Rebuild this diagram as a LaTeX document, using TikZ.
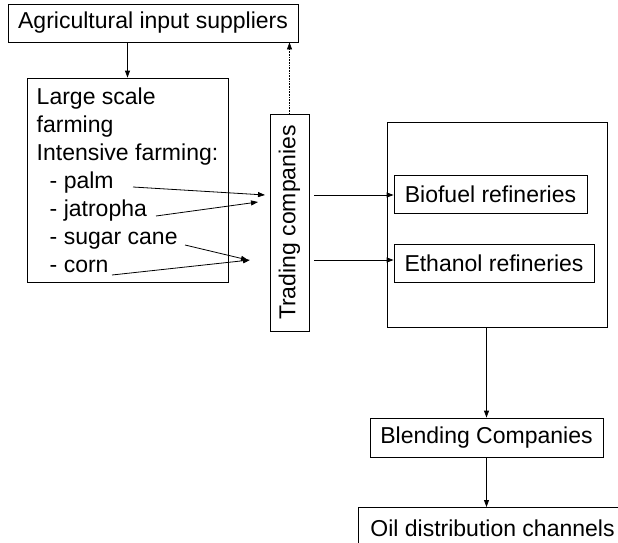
\documentclass[tikz,border=0pt]{standalone}
\usepackage{fontspec}
\setmainfont{Liberation Sans}
\usepackage{tikz}
\usetikzlibrary{arrows.meta,positioning,calc}

\begin{document}
\begin{tikzpicture}[x=1pt, y=-1pt,
  every node/.style={font=\fontsize{23}{28}\selectfont},
  box/.style={draw, line width=0.8pt, inner sep=0pt},
  arr/.style={line width=0.8pt, -{Triangle[length=7pt,width=5pt]}},
  dotarr/.style={line width=0.6pt, densely dotted, -{Triangle[length=7pt,width=5pt]}}]
  \clip (0,0) rectangle (618,543);
  % suppliers
  \node[box, minimum width=290, minimum height=38] (agri) at (153,23) {Agricultural input suppliers};
  % farming
  \node[box, minimum width=201, minimum height=204, align=left] (farm) at (127.5,180)
    {Large scale\\ farming\\ Intensive farming:\\
     \hspace*{13pt}- palm\\ \hspace*{13pt}- jatropha\\ \hspace*{13pt}- sugar cane\\ \hspace*{13pt}- corn};
  % traders
  \node[box, rotate=90, minimum width=217, minimum height=39] (trade) at (289.5,222.5) {Trading companies};
  % refineries
  \node[box, minimum width=220, minimum height=205] (ref) at (497,224.5) {};
  \node[box, minimum width=193, minimum height=38] (bio) at (490.5,194) {Biofuel refineries};
  \node[box, minimum width=200, minimum height=38] (eth) at (494,263) {Ethanol refineries};
  % blending and distribution
  \node[box, minimum width=233, minimum height=39] (blend) at (486.5,437.5) {Blending Companies};
  \node[box, anchor=north west, minimum height=42, inner xsep=12pt] (oil) at (358,507) {Oil distribution channels};

  % crop ends
  \coordinate (palm) at (133,187);
  \coordinate (jatr) at (156,216);
  \coordinate (cane) at (185,245);
  \coordinate (corn) at (112,275);
  \coordinate (inA) at (265,195);
  \coordinate (inB) at (258,202);
  \coordinate (inC) at (248,260);
  \coordinate (inD) at (250,260);
  \coordinate (outA) at (314,195);
  \coordinate (outB) at (314,260);

  \draw[arr] (agri.south -| farm.north) -- (farm.north);
  \draw[dotarr] (trade.east) -- (trade.east |- agri.south);
  \draw[arr] (palm) -- (inA);
  \draw[arr] (jatr) -- (inB);
  \draw[arr] (cane) -- (inC);
  \draw[arr] (corn) -- (inD);
  \draw[arr] (outA) -- (outA -| bio.west);
  \draw[arr] (outB) -- (outB -| eth.west);
  \draw[arr] (ref.south -| blend.north) -- (blend.north);
  \draw[arr] (blend.south) -- (blend.south |- oil.north);
\end{tikzpicture}
\end{document}
